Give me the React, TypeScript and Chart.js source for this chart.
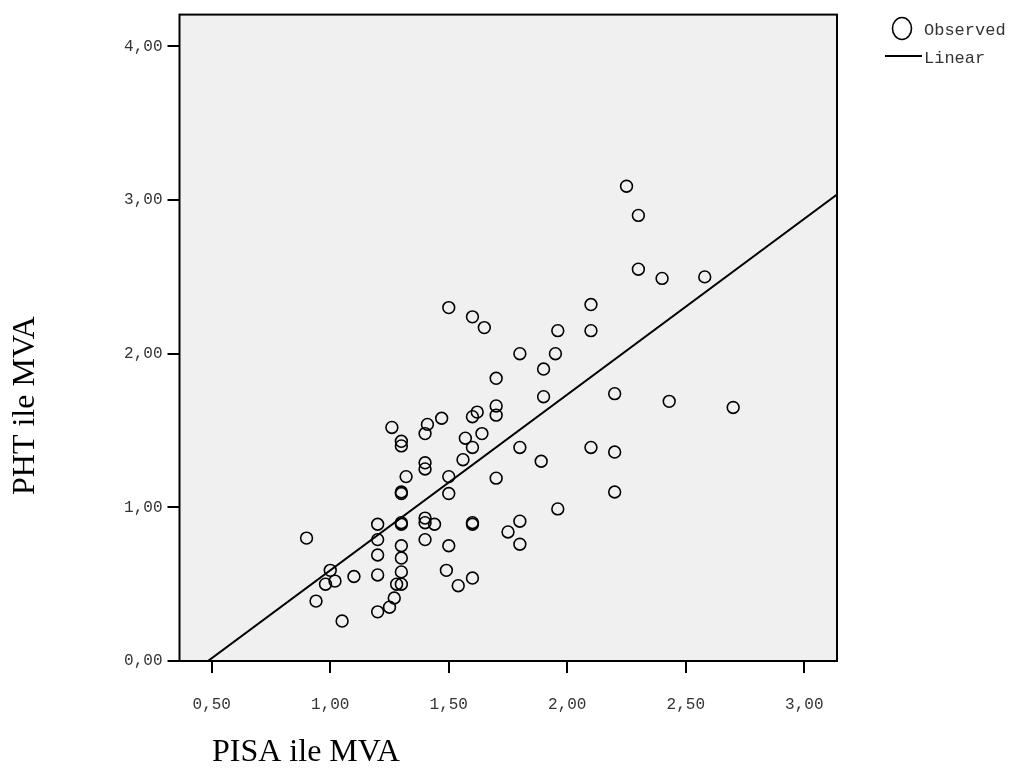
import React, { useEffect, useRef } from "react";
import { Chart, registerables } from "chart.js";

Chart.register(...registerables);

// Observed values: PISA ile MVA (x) and PHT ile MVA (y)
const PISA_VALUES = [
  0.90, 0.94, 0.98, 1.00, 1.02, 1.05, 1.10, 1.20, 1.20, 1.20,
  1.20, 1.20, 1.25, 1.27, 1.28, 1.30, 1.30, 1.30, 1.30, 1.30,
  1.30, 1.30, 1.30, 1.30, 1.30, 1.26, 1.32, 1.40, 1.40, 1.40,
  1.41, 1.40, 1.40, 1.40, 1.44, 1.47, 1.50, 1.50, 1.50, 1.50,
  1.49, 1.54, 1.56, 1.57, 1.60, 1.60, 1.62, 1.60, 1.60, 1.60,
  1.60, 1.65, 1.64, 1.70, 1.70, 1.70, 1.70, 1.75, 1.80, 1.80,
  1.80, 1.80, 1.89, 1.90, 1.90, 1.95, 1.96, 1.96, 2.10, 2.10,
  2.10, 2.20, 2.20, 2.20, 2.25, 2.30, 2.30, 2.40, 2.43, 2.58,
  2.70,
];
const PHT_VALUES = [
  0.80, 0.39, 0.50, 0.59, 0.52, 0.26, 0.55, 0.89, 0.79, 0.69,
  0.56, 0.32, 0.35, 0.41, 0.50, 0.50, 0.58, 0.67, 0.75, 0.90,
  0.89, 1.10, 1.09, 1.40, 1.43, 1.52, 1.20, 1.29, 1.25, 1.48,
  1.54, 0.93, 0.90, 0.79, 0.89, 1.58, 2.30, 1.20, 1.09, 0.75,
  0.59, 0.49, 1.31, 1.45, 1.59, 1.39, 1.62, 0.90, 0.89, 0.54,
  2.24, 2.17, 1.48, 1.84, 1.66, 1.60, 1.19, 0.84, 1.39, 2.00,
  0.91, 0.76, 1.30, 1.90, 1.72, 2.00, 2.15, 0.99, 2.32, 2.15,
  1.39, 1.74, 1.36, 1.10, 3.09, 2.90, 2.55, 2.49, 1.69, 2.50,
  1.65,
];

// Linear fit
const LINEAR_INTERCEPT = -0.554;
const LINEAR_SLOPE = 1.144;

// Axis ranges and ticks
const X_MIN = 0.364;
const X_MAX = 3.138;
const Y_MIN = 0;
const Y_MAX = 4.207;
const X_TICKS = [0.5, 1.0, 1.5, 2.0, 2.5, 3.0];
const Y_TICKS = [0, 1, 2, 3, 4];

const X_TITLE = "PISA ile MVA";
const Y_TITLE = "PHT ile MVA";
const LEGEND_LABELS = ["Observed", "Linear"];

const MONO = "'Liberation Mono', 'DejaVu Sans Mono', monospace";
const SERIF = "'Liberation Serif', 'DejaVu Serif', serif";

const fmt = (v: number) => v.toFixed(2).replace(".", ",");

const decorPlugin = {
  id: "spssDecor",
  beforeDraw(chart: any) {
    const { ctx, chartArea: a } = chart;
    ctx.save();
    ctx.fillStyle = "#f0f0f0";
    ctx.fillRect(a.left, a.top, a.right - a.left, a.bottom - a.top);
    ctx.restore();
  },
  afterDraw(chart: any) {
    const { ctx, chartArea: a } = chart;
    ctx.save();
    // frame
    ctx.strokeStyle = "#000";
    ctx.lineWidth = 2;
    ctx.strokeRect(a.left, a.top, a.right - a.left, a.bottom - a.top);

    // axis titles
    ctx.fillStyle = "#000";
    ctx.font = `32px ${SERIF}`;
    ctx.textAlign = "left";
    ctx.textBaseline = "alphabetic";
    ctx.fillText(X_TITLE, 212, 761);

    ctx.save();
    ctx.translate(34, 495);
    ctx.rotate(-Math.PI / 2);
    ctx.fillText(Y_TITLE, 0, 0);
    ctx.restore();

    // legend
    ctx.lineWidth = 1.6;
    ctx.beginPath();
    ctx.ellipse(902, 28.5, 9.5, 11, 0, 0, Math.PI * 2);
    ctx.stroke();
    ctx.lineWidth = 2;
    ctx.beginPath();
    ctx.moveTo(885, 56);
    ctx.lineTo(922, 56);
    ctx.stroke();
    ctx.font = `17px ${MONO}`;
    ctx.fillStyle = "#333";
    ctx.textBaseline = "middle";
    ctx.fillText(LEGEND_LABELS[0], 924, 30);
    ctx.fillText(LEGEND_LABELS[1], 924, 58);
    ctx.restore();
  },
};

export default function App() {
  const canvasRef = useRef<HTMLCanvasElement | null>(null);

  useEffect(() => {
    if (!canvasRef.current) return;
    const observed = PISA_VALUES.map((x, i) => ({ x, y: PHT_VALUES[i] }));
    const linear = [X_MIN, X_MAX].map((x) => ({
      x,
      y: LINEAR_INTERCEPT + LINEAR_SLOPE * x,
    }));

    const chart = new Chart(canvasRef.current, {
      type: "scatter",
      data: {
        datasets: [
          {
            label: LEGEND_LABELS[0],
            data: observed,
            pointStyle: "circle",
            pointRadius: 5.9,
            pointBorderWidth: 1.6,
            pointBorderColor: "#000",
            pointBackgroundColor: "rgba(0,0,0,0)",
            borderColor: "#000",
            backgroundColor: "rgba(0,0,0,0)",
            showLine: false,
          },
          {
            type: "line",
            label: LEGEND_LABELS[1],
            data: linear,
            borderColor: "#000",
            borderWidth: 2,
            pointRadius: 0,
            fill: false,
            tension: 0,
          } as any,
        ],
      },
      options: {
        animation: false,
        responsive: true,
        maintainAspectRatio: false,
        layout: { padding: { left: 0, top: 12, right: 177, bottom: 0 } },
        plugins: {
          legend: { display: false },
          tooltip: { enabled: false },
        },
        scales: {
          x: {
            type: "linear",
            min: X_MIN,
            max: X_MAX,
            afterFit: (s: any) => {
              s.height = 108;
            },
            afterBuildTicks: (s: any) => {
              s.ticks = X_TICKS.map((value) => ({ value }));
            },
            border: { display: false },
            grid: {
              drawOnChartArea: false,
              drawTicks: true,
              tickLength: 12,
              color: "#000",
              lineWidth: 2,
            },
            ticks: {
              font: { family: MONO, size: 16 },
              color: "#333",
              padding: 22,
              maxRotation: 0,
              callback: (v: any) => fmt(Number(v)),
            },
          },
          y: {
            type: "linear",
            min: Y_MIN,
            max: Y_MAX,
            afterFit: (s: any) => {
              s.width = 179.5;
            },
            afterBuildTicks: (s: any) => {
              s.ticks = Y_TICKS.map((value) => ({ value }));
            },
            border: { display: false },
            grid: {
              drawOnChartArea: false,
              drawTicks: true,
              tickLength: 12,
              color: "#000",
              lineWidth: 2,
            },
            ticks: {
              font: { family: MONO, size: 16 },
              color: "#333",
              padding: 5,
              callback: (v: any) => fmt(Number(v)),
            },
          },
        },
      },
      plugins: [decorPlugin],
    });
    return () => chart.destroy();
  }, []);

  return (
    <div
      style={{
        position: "absolute",
        left: 0,
        top: 0,
        width: 1014,
        height: 769,
        background: "#fff",
      }}
    >
      <canvas ref={canvasRef} />
    </div>
  );
}
